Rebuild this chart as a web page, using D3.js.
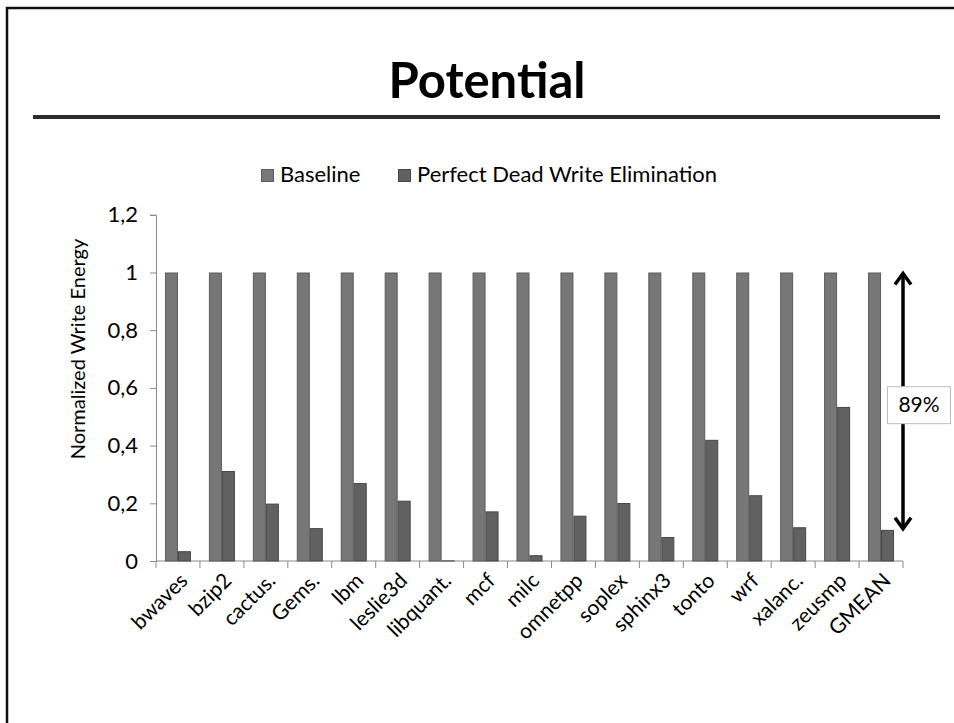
<!DOCTYPE html>
<html>
<head>
<meta charset="utf-8">
<script src="https://cdn.jsdelivr.net/npm/d3@7"></script>
<style>
  html, body { margin: 0; padding: 0; background: #fff; }
  svg { display: block; font-family: Lato, "Open Sans", sans-serif; }
</style>
</head>
<body>
<svg id="chart" width="954" height="723"></svg>
<script>
// Benchmarks on the x axis
const categories = ["bwaves", "bzip2", "cactus.", "Gems.", "lbm", "leslie3d", "libquant.", "mcf", "milc",
  "omnetpp", "soplex", "sphinx3", "tonto", "wrf", "xalanc.", "zeusmp", "GMEAN"];

// Series names (legend order)
const seriesNames = ["Baseline", "Perfect Dead Write Elimination"];

// Normalized write energy per benchmark
const baselineValues = [1, 1, 1, 1, 1, 1, 1, 1, 1, 1, 1, 1, 1, 1, 1, 1, 1];
const pdweValues = [0.034, 0.312, 0.199, 0.114, 0.270, 0.209, 0.002, 0.172, 0.020,
  0.157, 0.201, 0.083, 0.420, 0.228, 0.117, 0.534, 0.108];

// Y axis ticks
const yTicks = [0, 0.2, 0.4, 0.6, 0.8, 1, 1.2];

const titleText = "Potential";
const yAxisTitle = "Normalized Write Energy";

const fills = ["#777777", "#616161"];
const strokes = ["#5c5c5c", "#474747"];

const svg = d3.select("#chart");

// Slide frame
svg.append("path")
  .attr("d", "M7,723 V8 H954")
  .attr("fill", "none")
  .attr("stroke", "#111")
  .attr("stroke-width", 2.5);

// Title and rule
svg.append("text")
  .attr("x", 487).attr("y", 98)
  .attr("text-anchor", "middle")
  .attr("font-weight", 700)
  .attr("font-size", 49)
  .attr("fill", "#000")
  .text(titleText);

svg.append("line")
  .attr("x1", 33).attr("x2", 940)
  .attr("y1", 117).attr("y2", 117)
  .attr("stroke", "#2b2b2b")
  .attr("stroke-width", 4);

// Scales
const x0 = d3.scaleBand().domain(categories).range([156, 903]).padding(0);
const x1 = d3.scaleBand().domain(seriesNames).range([0, x0.bandwidth()]).paddingInner(0).paddingOuter(0.69);
const y = d3.scaleLinear().domain([0, 1.2]).range([561, 214.8]);

const fmt = v => d3.format("")(+v.toFixed(1)).replace(".", ",");

// Y axis
const yAxis = svg.append("g")
  .attr("transform", "translate(156,0)")
  .call(d3.axisLeft(y).tickValues(yTicks).tickSize(6).tickPadding(12).tickFormat(fmt));
yAxis.select(".domain").attr("stroke", "#8a8a8a");
yAxis.selectAll(".tick line").attr("stroke", "#8a8a8a");
yAxis.selectAll(".tick text")
  .attr("font-family", "Lato, 'Open Sans', sans-serif")
  .attr("font-size", 22)
  .attr("fill", "#000");

// X axis: boundary tick marks between categories
const xAxisG = svg.append("g");
xAxisG.append("line")
  .attr("x1", 156).attr("x2", 903)
  .attr("y1", y(0)).attr("y2", y(0))
  .attr("stroke", "#8a8a8a");
const boundaries = categories.map(c => x0(c)).concat([x0(categories[categories.length - 1]) + x0.bandwidth()]);
xAxisG.selectAll("line.bt")
  .data(boundaries)
  .join("line")
  .attr("class", "bt")
  .attr("x1", d => d).attr("x2", d => d)
  .attr("y1", y(0)).attr("y2", y(0) + 7)
  .attr("stroke", "#8a8a8a");

// Bars
const rows = categories.map((c, i) => ({ cat: c, vals: [baselineValues[i], pdweValues[i]] }));
const groups = svg.append("g").selectAll("g")
  .data(rows)
  .join("g")
  .attr("transform", d => `translate(${x0(d.cat)},0)`);
groups.selectAll("rect")
  .data(d => d.vals.map((v, k) => ({ key: seriesNames[k], v, k })))
  .join("rect")
  .attr("x", d => x1(d.key) + 0.5)
  .attr("width", x1.bandwidth() - 1)
  .attr("y", d => y(d.v) + 0.5)
  .attr("height", d => Math.max(0, y(0) - y(d.v) - 0.5))
  .attr("fill", d => fills[d.k])
  .attr("stroke", d => strokes[d.k])
  .attr("stroke-width", 1);

// Category labels, rotated
svg.append("g").selectAll("text")
  .data(categories)
  .join("text")
  .attr("transform", c => `translate(${x0(c) + x0.bandwidth() / 2 + 11},${y(0) + 21}) rotate(-45)`)
  .attr("text-anchor", "end")
  .attr("font-size", 21)
  .attr("fill", "#000")
  .text(c => c);

// Y axis title
svg.append("text")
  .attr("transform", `translate(85,349) rotate(-90)`)
  .attr("text-anchor", "middle")
  .attr("font-size", 20)
  .attr("fill", "#000")
  .text(yAxisTitle);

// Legend
const legend = svg.append("g");
const legendX = [261, 398];
seriesNames.forEach((name, k) => {
  legend.append("rect")
    .attr("x", legendX[k] + 0.5).attr("y", 169.5)
    .attr("width", 12).attr("height", 12)
    .attr("fill", fills[k]).attr("stroke", strokes[k]);
  legend.append("text")
    .attr("x", legendX[k] + 19).attr("y", 182)
    .attr("font-size", 22)
    .attr("fill", "#000")
    .text(name);
});

// Savings annotation: double arrow from baseline (1) down to GMEAN
const gmean = pdweValues[pdweValues.length - 1];
const saving = Math.round((1 - gmean) * 100);
const ax = 903;
const yTop = y(1), yBot = y(gmean);
const ann = svg.append("g").attr("stroke", "#000").attr("stroke-width", 3.5).attr("fill", "none");
ann.append("line").attr("x1", ax).attr("x2", ax).attr("y1", yTop + 1).attr("y2", yBot - 1);
ann.append("path").attr("d", `M${ax - 8},${yTop + 12} L${ax},${yTop + 1} L${ax + 8},${yTop + 12}`);
ann.append("path").attr("d", `M${ax - 8},${yBot - 12} L${ax},${yBot - 1} L${ax + 8},${yBot - 12}`);

const boxMid = (yTop + yBot) / 2 + 4;
svg.append("rect")
  .attr("x", 887.5).attr("y", boxMid - 18.5)
  .attr("width", 63).attr("height", 37)
  .attr("fill", "#fff")
  .attr("stroke", "#bdbdbd");
svg.append("text")
  .attr("x", 919).attr("y", boxMid + 7)
  .attr("text-anchor", "middle")
  .attr("font-size", 21)
  .attr("fill", "#000")
  .text(`${saving}%`);
</script>
</body>
</html>
